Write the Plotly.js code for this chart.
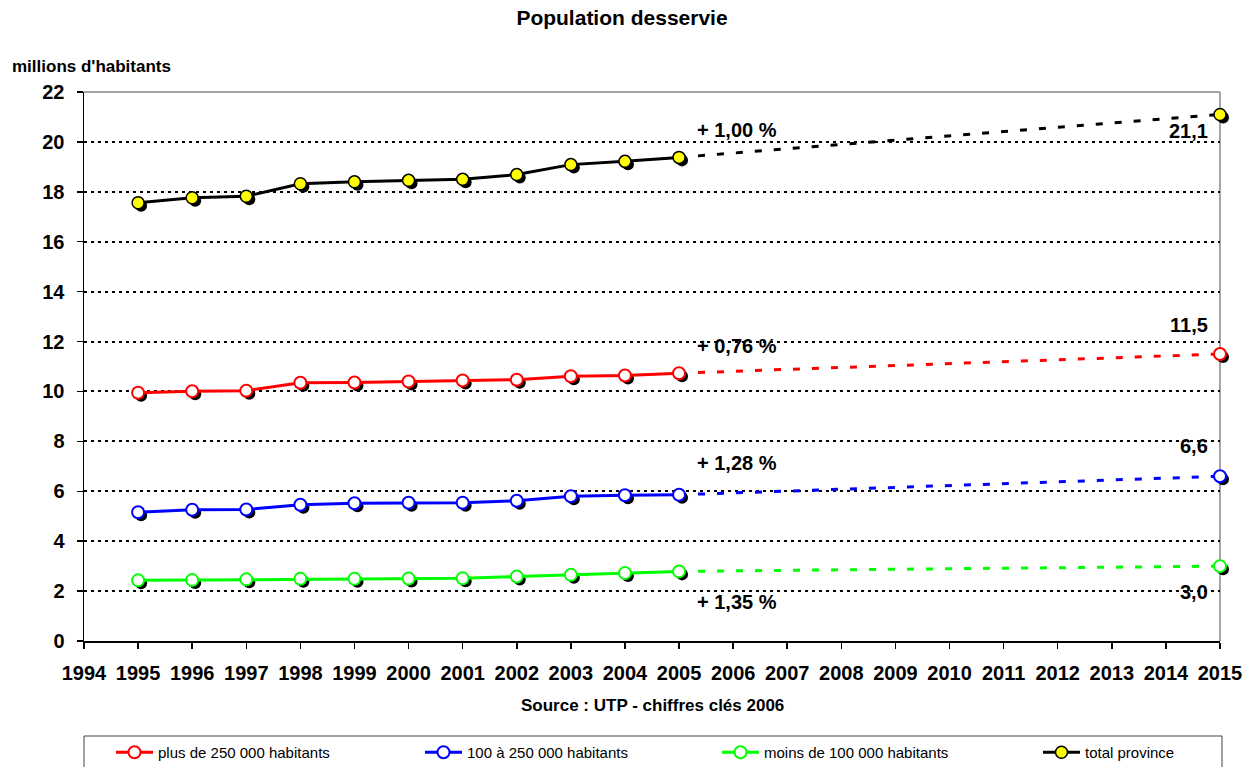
<!DOCTYPE html>
<html>
<head>
<meta charset="utf-8">
<script src="https://cdn.plot.ly/plotly-3.0.1.min.js"></script>
<style>html,body{margin:0;padding:0;background:#fff;}#chart{width:1258px;height:767px;}</style>
</head>
<body>
<div id="chart"></div>
<script>
// ---- data ----
const years = [1995,1996,1997,1998,1999,2000,2001,2002,2003,2004,2005];
const projYears = [2005, 2015];
const seriesNames = ['plus de 250 000 habitants','100 à 250 000 habitants','moins de 100 000 habitants','total province'];
const plus250 = [9.95,10.01,10.03,10.35,10.36,10.40,10.44,10.47,10.61,10.64,10.73];
const from100to250 = [5.16,5.26,5.27,5.46,5.52,5.54,5.54,5.62,5.80,5.84,5.86];
const under100 = [2.43,2.44,2.47,2.49,2.49,2.50,2.51,2.58,2.65,2.72,2.79];
const total = [17.56,17.76,17.82,18.32,18.40,18.46,18.50,18.69,19.09,19.22,19.38];
const proj2015 = [11.5, 6.6, 3.0, 21.1];
const growthLabels = ['+ 0,76 %','+ 1,28 %','+ 1,35 %','+ 1,00 %'];
const endLabels = ['11,5','6,6','3,0','21,1'];
const xTicks = [1994,1995,1996,1997,1998,1999,2000,2001,2002,2003,2004,2005,2006,2007,2008,2009,2010,2011,2012,2013,2014,2015];
const yTicks = [0,2,4,6,8,10,12,14,16,18,20,22];

// ---- styles ----
const FONT = 'Liberation Sans, Arial, sans-serif';
const colors = ['#FF0000','#0000FF','#00FF00','#000000'];
const markerFill = ['#FFFFFF','#FFFFFF','#FFFFFF','#FFFF00'];
const markerLine = ['#FF0000','#0000FF','#00FF00','#000000'];
const growthShift = [27, 32, -31, 27];
const endShift = [29, 30, -26, -17];
const legendWidths = [257, 245, 269, 120];

const W = 1258, H = 767;
const SH = 3; // shadow offset px
const M = {l:84, r:38 - SH, t:92, b:126 - SH, autoexpand: false};
const plotW = W - M.l - M.r, plotH = H - M.t - M.b;
const dxp = SH / plotW, dyp = SH / plotH;
const px2x = px => (px - M.l) / plotW;
const px2y = py => (H - M.b - py) / plotH;
const xr = [xTicks[0], xTicks[xTicks.length-1]];
const yr = [yTicks[0], yTicks[yTicks.length-1]];

const allSeries = [plus250, from100to250, under100, total];
const traces = [];

// projections (dashed) on base axes
allSeries.forEach((s, i) => {
  traces.push({
    x: projYears, y: [s[s.length-1], proj2015[i]],
    type: 'scatter', mode: 'lines', xaxis: 'x', yaxis: 'y',
    line: {color: colors[i], width: 3, dash: '7px,12px'},
    showlegend: false, hoverinfo: 'skip', cliponaxis: false
  });
});
// shadows (same data, drawn on a subplot offset by a few pixels)
allSeries.forEach((s, i) => {
  traces.push({
    x: years.concat([2015]), y: s.concat([proj2015[i]]),
    type: 'scatter', mode: 'markers', xaxis: 'x2', yaxis: 'y2',
    marker: {color: '#000000', size: 12, line: {width: 0}},
    showlegend: false, hoverinfo: 'skip', cliponaxis: false
  });
});
// main lines
allSeries.forEach((s, i) => {
  traces.push({
    x: years, y: s, name: seriesNames[i],
    type: 'scatter', mode: 'lines+markers', xaxis: 'x3', yaxis: 'y3',
    line: {color: colors[i], width: 3},
    marker: {color: markerFill[i], size: 12, line: {color: markerLine[i], width: i===3 ? 1.5 : 2}},
    legendwidth: legendWidths[i], cliponaxis: false
  });
});
// 2015 end markers
allSeries.forEach((s, i) => {
  traces.push({
    x: [2015], y: [proj2015[i]],
    type: 'scatter', mode: 'markers', xaxis: 'x3', yaxis: 'y3',
    marker: {color: markerFill[i], size: 12, line: {color: markerLine[i], width: i===3 ? 1.5 : 2}},
    showlegend: false, cliponaxis: false
  });
});

const annotations = [];
allSeries.forEach((s, i) => {
  annotations.push({
    x: years[years.length-1], y: s[s.length-1], xref: 'x3', yref: 'y3',
    text: growthLabels[i], showarrow: false, xanchor: 'left', yanchor: 'middle',
    xshift: 16, yshift: growthShift[i],
    font: {family: FONT, size: 20, weight: 'bold', color: '#000'}
  });
  annotations.push({
    x: 2015, y: proj2015[i], xref: 'x3', yref: 'y3',
    text: endLabels[i], showarrow: false, xanchor: 'right', yanchor: 'middle',
    xshift: -10, yshift: endShift[i],
    font: {family: FONT, size: 20, weight: 'bold', color: '#000'}
  });
});
annotations.push({
  xref: 'paper', yref: 'paper', x: px2x(10), y: px2y(66),
  text: "millions d'habitants", showarrow: false, xanchor: 'left', yanchor: 'middle',
  font: {family: FONT, size: 17, weight: 'bold', color: '#000'}
});
annotations.push({
  xref: 'paper', yref: 'paper', x: px2x(652), y: px2y(705),
  text: 'Source : UTP - chiffres clés 2006', showarrow: false, xanchor: 'center', yanchor: 'middle',
  font: {family: FONT, size: 17, weight: 'bold', color: '#000'}
});

const hidden = {visible: false, showgrid: false, zeroline: false};

const layout = {
  width: W, height: H,
  margin: M,
  paper_bgcolor: '#fff', plot_bgcolor: 'rgba(0,0,0,0)',
  title: {text: 'Population desservie', x: 622/W, xanchor: 'center', y: 1 - 18/H, yanchor: 'middle',
          font: {family: FONT, size: 21, weight: 'bold', color: '#000'}},
  font: {family: FONT, color: '#000'},
  xaxis: {
    domain: [0, 1 - dxp], anchor: 'y',
    range: xr, tickmode: 'array', tickvals: xTicks, ticktext: xTicks.map(String),
    showgrid: false, zeroline: false, showline: true, linecolor: '#000', linewidth: 1.5,
    ticks: 'outside', ticklen: 6, tickwidth: 1.5, tickcolor: '#000', ticklabelstandoff: 7,
    tickfont: {family: FONT, size: 20, weight: 'bold', color: '#000'}
  },
  yaxis: {
    domain: [dyp, 1], anchor: 'x',
    range: yr, tickmode: 'array', tickvals: yTicks, ticktext: yTicks.map(String),
    showgrid: true, gridcolor: '#000', gridwidth: 2, griddash: '3px,4px',
    zeroline: false, showline: true, linecolor: '#000', linewidth: 1.5,
    ticks: 'outside', ticklen: 6, tickwidth: 1.5, tickcolor: '#000', ticklabelstandoff: 8,
    tickfont: {family: FONT, size: 20, weight: 'bold', color: '#000'}
  },
  xaxis2: Object.assign({domain: [dxp, 1], anchor: 'y2', range: xr}, hidden),
  yaxis2: Object.assign({domain: [0, 1 - dyp], anchor: 'x2', range: yr}, hidden),
  xaxis3: Object.assign({domain: [0, 1 - dxp], anchor: 'y3', range: xr}, hidden),
  yaxis3: Object.assign({domain: [dyp, 1], anchor: 'x3', range: yr}, hidden),
  showlegend: true,
  legend: {
    orientation: 'h', x: px2x(111), xanchor: 'left', y: px2y(736), yanchor: 'top',
    bgcolor: 'rgba(0,0,0,0)', borderwidth: 0, traceorder: 'normal',
    font: {family: FONT, size: 15, color: '#000'}, itemwidth: 37, entrywidthmode: 'pixels'
  },
  shapes: [
    {type: 'line', xref: 'paper', yref: 'paper', x0: 0, x1: 1 - dxp, y0: 1, y1: 1, line: {color: '#888', width: 1.5}, layer: 'below'},
    {type: 'line', xref: 'paper', yref: 'paper', x0: 1 - dxp, x1: 1 - dxp, y0: dyp, y1: 1, line: {color: '#888', width: 1.5}, layer: 'below'},
    {type: 'rect', xref: 'paper', yref: 'paper', x0: px2x(84), x1: px2x(1222),
     y0: px2y(736), y1: px2y(800), line: {color: '#444', width: 1}, fillcolor: 'rgba(0,0,0,0)', layer: 'below'}
  ],
  annotations: annotations
};

Plotly.newPlot('chart', traces, layout, {displayModeBar: false, staticPlot: true});
</script>
</body>
</html>
